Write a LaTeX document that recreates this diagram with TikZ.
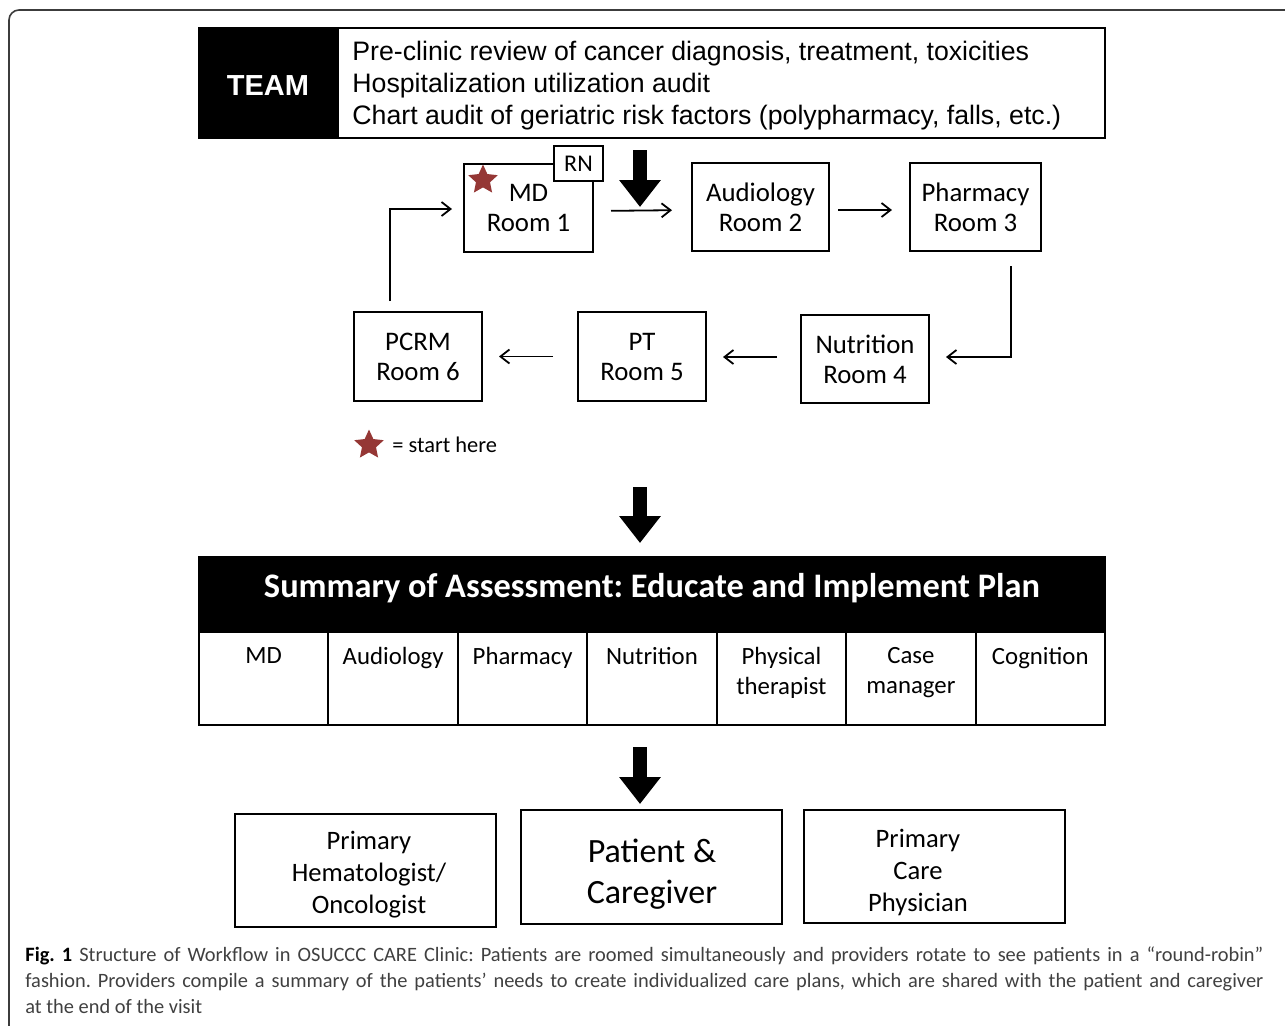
\documentclass[tikz,border=0pt]{standalone}
\usepackage{fontspec}
\setmainfont{Carlito}
\newfontfamily\arialfont{Liberation Sans}
\usetikzlibrary{arrows.meta,calc,shapes.geometric}

\definecolor{starred}{RGB}{149,55,53}
\definecolor{framegray}{RGB}{60,60,60}
\definecolor{captiongray}{RGB}{64,64,64}

\begin{document}
\frenchspacing
\begin{tikzpicture}[x=0.5pt, y=-0.5pt, >={Straight Barb[length=4.5pt,width=7pt]}]

    % 样式
    \tikzset{
      room/.style={draw, fill=white, line width=1pt, align=center, inner sep=0pt,
        minimum height=44pt, font=\fontsize{13.4}{15}\selectfont},
      flow/.style={->, line width=0.9pt},
      bigarrow/.style={line width=7pt, -{Triangle[width=20pt,length=13.5pt]}},
      startstar/.style={star, star points=5, star point ratio=2.1, fill=starred,
        inner sep=0pt, minimum size=15.5pt},
      cell/.style={draw, line width=1pt, inner sep=0pt, minimum width=64.71pt,
        minimum height=46.5pt},
      celltext/.style={anchor=north, align=center, inner sep=0pt,
        font=\fontsize{12.4}{15}\selectfont},
      outbox/.style={draw, line width=1pt, inner sep=0pt,
        minimum width=130.5pt, minimum height=56.5pt},
      outtext/.style={align=center, inner sep=0pt, font=\fontsize{13.3}{16}\selectfont}
    }

    % 0. 画布
    \useasboundingbox (0,0) rectangle (1285,1025);

    % 1. 外框 (右侧和下侧超出画面)
    \draw[framegray, line width=0.8pt, rounded corners=5pt] (1300,10) -- (9,10) -- (9,1045);

    % 2. TEAM 栏
    \node[fill=black, draw=black, line width=1pt, inner sep=0pt,
      minimum width=69.5pt, minimum height=55pt] (team) at (268.5,83) {};
    \node[text=white, inner sep=0pt,
      font=\arialfont\bfseries\fontsize{14.5}{17}\selectfont] (teamlabel) at (268,86) {TEAM};
    \node[draw, line width=1pt, minimum width=383.5pt, minimum height=55pt,
      inner sep=0pt] (tasks) at (721.5,83) {};
    \node[anchor=west, align=left, inner sep=0pt,
      font=\arialfont\fontsize{13.35}{16}\selectfont] (tasklist) at (352,86)
      {Pre-clinic review of cancer diagnosis, treatment, toxicities\\
       Hospitalization utilization audit\\
       Chart audit of geriatric risk factors (polypharmacy, falls, etc.)};

    % 3. 各诊室
    \node[room, minimum width=64.5pt] (md) at (528.5,208) {MD\\Room 1};
    \node[room, minimum width=24.5pt, minimum height=17.5pt,
      font=\fontsize{12}{14}\selectfont] (rn) at (578.5,163.5) {RN};
    \node[startstar] (star1) at (483,180) {};
    \node[room, minimum width=68.5pt] (aud) at (760.5,207) {Audiology\\Room 2};
    \node[room, minimum width=65.5pt] (pha) at (975.5,207) {Pharmacy\\Room 3};
    \node[room, minimum width=64pt] (nut) at (865,359) {Nutrition\\Room 4};
    \node[room, minimum width=64pt, minimum height=44.5pt] (pt) at (642,356.5) {PT\\Room 5};
    \node[room, minimum width=64pt, minimum height=44.5pt] (pcrm) at (418,356.5) {PCRM\\Room 6};

    % 4. 轮转箭头
    \draw[flow, shorten <=8.5pt, shorten >=9.5pt] ([yshift=-1.5pt]md.east) -- ([yshift=-1.5pt]aud.west);
    \draw[flow, shorten <=4pt, shorten >=8.5pt] ([yshift=-1.5pt]aud.east) -- ([yshift=-1.5pt]pha.west);
    \draw[flow] ([xshift=17.75pt,yshift=-7pt]pha.south) |- ([xshift=8pt,yshift=1pt]nut.east);
    \draw[flow] ([xshift=-11.5pt,yshift=1pt]nut.west) -- ([xshift=8pt,yshift=1pt]nut.west -| pt.east);
    \draw[flow, shorten <=12pt, shorten >=8pt] (pt) -- (pcrm);
    \draw[flow] ([xshift=-14pt,yshift=5pt]pcrm.north) |- ([xshift=-5.5pt,yshift=-0.5pt]md.west);

    % 5. 图例
    \node[startstar] (star2) at (369,445) {};
    \node[anchor=west, inner sep=0pt, font=\fontsize{11.2}{13}\selectfont] (legend) at (392,445) {= start here};

    % 6. 粗箭头
    \coordinate (a1s) at (640,150);
    \coordinate (a1e) at (640,207);
    \coordinate (a2s) at (640,487);
    \coordinate (a2e) at (640,543);
    \coordinate (a3s) at (640,747);
    \coordinate (a3e) at (640,804);
    \draw[bigarrow] (a1s) -- (a1e);
    \draw[bigarrow] (a2s) -- (a2e);
    \draw[bigarrow] (a3s) -- (a3e);

    % 7. 汇总表
    \node[fill=black, draw=black, line width=1pt, minimum width=453pt,
      minimum height=37.5pt, inner sep=0pt] (sum) at (652,594.5) {};
    \node[text=white, inner sep=0pt, font=\bfseries\fontsize{17.2}{20}\selectfont]
      (sumtitle) at (652,588) {Summary of Assessment: Educate and Implement Plan};
    \foreach \lab [count=\i from 0] in {MD, Audiology, Pharmacy, Nutrition,
        {Physical\\therapist}, {Case\\manager}, Cognition} {
      \node[cell] (c\i) at ({263.71+\i*129.43},678.5) {};
      \node[celltext] (t\i) at ({263.71+\i*129.43},647) {\lab};
    }

    % 8. 结果
    \node[outbox] (hemon) at (365.5,870.5) {};
    \node[outtext] (hemontext) at (369,875) {Primary\\Hematologist/\\Oncologist};
    \node[outbox, minimum height=57pt] (pat) at (651.5,867) {};
    \node[outtext, font=\fontsize{17}{20.5}\selectfont] (pattext) at (652,874) {Patient \&\\Caregiver};
    \node[outbox] (pcp) at (934.5,866.5) {};
    \node[outtext] (pcptext) at (918,872) {Primary\\Care\\Physician};

    % 9. 图注
    \node[anchor=north west, inner sep=0pt, text width=619pt, align=justify,
      text=captiongray, font=\fontsize{10.2}{13}\selectfont] (caption) at (25,946)
      {\textcolor{black}{\textbf{Fig.~1}} Structure of Workflow in OSUCCC CARE Clinic: Patients are roomed simultaneously and providers rotate to see patients in a “round-robin”\linebreak
       fashion. Providers compile a summary of the patients’ needs to create individualized care plans, which are shared with the patient and caregiver\linebreak
       at the end of the visit};

\end{tikzpicture}
\end{document}
